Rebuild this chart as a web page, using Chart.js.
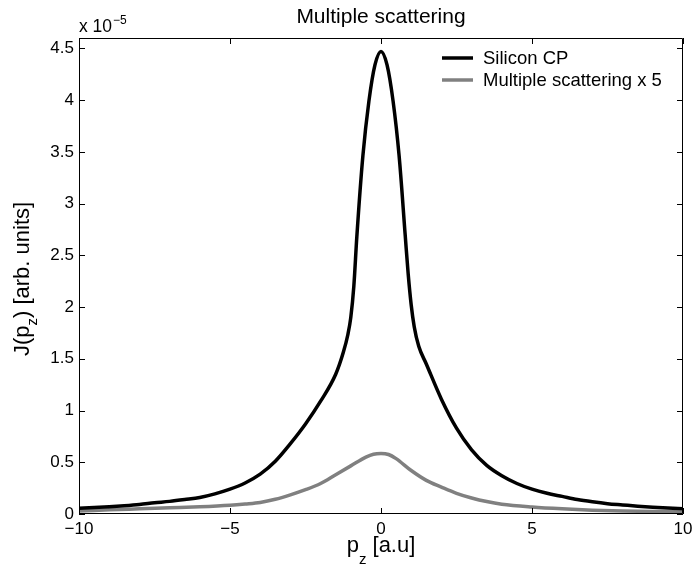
<!DOCTYPE html>
<html>

<head>
    <title>Multiple scattering</title>
    <script src="https://cdn.jsdelivr.net/npm/chart.js"></script>
    <style>
        body { margin: 0; background: #fff; }
        canvas { display: block; }
    </style>
</head>

<body>
    <canvas id="myChart" width="693" height="572"></canvas>

    <script>
        // momentum p_z [a.u] and profiles in units of 1e-5
        const pzCP = [-10, -9.5, -9, -8.5, -8, -7.5, -7, -6.5, -6, -5.5, -5, -4.5, -4, -3.5, -3, -2.5, -2, -1.5,
            -1.25, -1.1, -1, -0.9, -0.8, -0.6, -0.4, -0.2, 0, 0.2, 0.4, 0.6, 0.8, 0.9, 1, 1.1, 1.25, 1.5,
            2, 2.5, 3, 3.5, 4, 4.5, 5, 5.5, 6, 6.5, 7, 7.5, 8, 8.5, 9, 9.5, 10];
        const siliconCP = [0.055, 0.062, 0.070, 0.080, 0.092, 0.108, 0.122, 0.140, 0.160, 0.195, 0.240, 0.300, 0.385, 0.510, 0.680, 0.870, 1.090, 1.350,
            1.560, 1.730, 1.900, 2.200, 2.680, 3.460, 3.990, 4.340, 4.470, 4.340, 3.990, 3.460, 2.700, 2.320, 2.020, 1.810, 1.620, 1.450,
            1.110, 0.830, 0.620, 0.470, 0.370, 0.295, 0.240, 0.200, 0.170, 0.140, 0.118, 0.100, 0.088, 0.076, 0.066, 0.058, 0.050];

        const pzMS = [-10, -9, -8, -7, -6, -5, -4.5, -4, -3.5, -3, -2.5, -2, -1.5, -1, -0.5, -0.25, 0, 0.25, 0.5,
            1, 1.5, 2, 2.5, 3, 3.5, 4, 5, 6, 7, 8, 9, 10];
        const multipleScattering = [0.030, 0.040, 0.050, 0.060, 0.070, 0.085, 0.097, 0.112, 0.142, 0.185, 0.235, 0.295, 0.380, 0.465, 0.550, 0.578, 0.585, 0.575, 0.535,
            0.420, 0.325, 0.260, 0.200, 0.155, 0.120, 0.095, 0.068, 0.050, 0.037, 0.028, 0.023, 0.020];

        const xTicks = [-10, -5, 0, 5, 10];
        const yTicks = [0, 0.5, 1, 1.5, 2, 2.5, 3, 3.5, 4, 4.5];
        const seriesNames = ["Silicon CP", "Multiple scattering x 5"];
        const seriesColors = ["#000000", "#808080"];

        const FONT = "'Liberation Sans', Arial, Helvetica, sans-serif";

        function toPoints(xs, ys) {
            return xs.map((x, i) => ({ x: x, y: ys[i] }));
        }

        function fmt(v) {
            const s = String(Math.round(v * 10) / 10);
            return s.replace("-", "\u2212");
        }

        // text with a subscripted part: before, sub, after
        function subText(ctx, parts, x, y, drop, centered) {
            const big = "22px " + FONT, small = "15px " + FONT;
            ctx.font = big;
            const w1 = ctx.measureText(parts[0]).width;
            const w3 = ctx.measureText(parts[2]).width;
            ctx.font = small;
            const w2 = ctx.measureText(parts[1]).width;
            let x0 = centered ? x - (w1 + w2 + w3) / 2 : x;
            ctx.font = big;
            ctx.fillText(parts[0], x0, y);
            ctx.font = small;
            ctx.fillText(parts[1], x0 + w1, y + drop);
            ctx.font = big;
            ctx.fillText(parts[2], x0 + w1 + w2, y);
        }

        // matlab-style box: inward ticks on all four sides, title, exponent, labels, legend
        const matlabAxes = {
            id: "matlabAxes",
            afterDraw(chart) {
                const ctx = chart.ctx;
                const a = chart.chartArea;
                const xs = chart.scales.x;
                const ys = chart.scales.y;
                const tl = 6;

                ctx.save();
                ctx.strokeStyle = "#000";
                ctx.lineWidth = 1;
                ctx.beginPath();
                ctx.rect(a.left + 0.5, a.top + 0.5, a.right - a.left - 1, a.bottom - a.top - 1);
                xTicks.forEach(v => {
                    const px = Math.round(xs.getPixelForValue(v)) + 0.5;
                    ctx.moveTo(px, a.bottom);
                    ctx.lineTo(px, a.bottom - tl);
                    ctx.moveTo(px, a.top);
                    ctx.lineTo(px, a.top + tl);
                });
                yTicks.forEach(v => {
                    const py = Math.round(ys.getPixelForValue(v)) + 0.5;
                    ctx.moveTo(a.left, py);
                    ctx.lineTo(a.left + tl, py);
                    ctx.moveTo(a.right, py);
                    ctx.lineTo(a.right - tl, py);
                });
                ctx.stroke();

                ctx.fillStyle = "#000";
                ctx.textBaseline = "alphabetic";

                // title
                ctx.font = "21px " + FONT;
                ctx.textAlign = "center";
                ctx.fillText("Multiple scattering", (a.left + a.right) / 2, 23);

                // exponent of the y axis
                ctx.textAlign = "left";
                ctx.font = "17.5px " + FONT;
                ctx.fillText("x 10", a.left, 32);
                const w10 = ctx.measureText("x 10").width;
                ctx.font = "12px " + FONT;
                ctx.fillText("\u22125", a.left + w10 + 1, 24);

                // x axis label: p_z [a.u]
                subText(ctx, ["p", "z", " [a.u]"], (a.left + a.right) / 2, 552, 12, true);

                // y axis label: J(p_z) [arb. units]
                ctx.save();
                ctx.translate(29, (a.top + a.bottom) / 2 + 3);
                ctx.rotate(-Math.PI / 2);
                subText(ctx, ["J(p", "z", ") [arb. units]"], 0, 0, 8, true);
                ctx.restore();
                ctx.restore();

                // legend
                ctx.save();
                ctx.font = "18.5px " + FONT;
                ctx.textBaseline = "middle";
                ctx.textAlign = "left";
                chart.data.datasets.forEach((ds, i) => {
                    const ly = 58 + i * 22;
                    ctx.strokeStyle = ds.borderColor;
                    ctx.lineWidth = 3.5;
                    ctx.beginPath();
                    ctx.moveTo(442, ly);
                    ctx.lineTo(473, ly);
                    ctx.stroke();
                    ctx.fillStyle = "#000";
                    ctx.fillText(ds.label, 483, ly + 1);
                });
                ctx.restore();
            }
        };

        const ctx = document.getElementById("myChart").getContext("2d");
        new Chart(ctx, {
            type: "line",
            data: {
                datasets: [{
                    label: seriesNames[0],
                    data: toPoints(pzCP, siliconCP),
                    borderColor: seriesColors[0],
                    borderWidth: 3.5,
                    pointRadius: 0,
                    cubicInterpolationMode: "monotone",
                    clip: 0,
                }, {
                    label: seriesNames[1],
                    data: toPoints(pzMS, multipleScattering),
                    borderColor: seriesColors[1],
                    borderWidth: 3.5,
                    pointRadius: 0,
                    cubicInterpolationMode: "monotone",
                    clip: 0,
                }],
            },
            options: {
                responsive: false,
                animation: false,
                devicePixelRatio: 1,
                layout: { padding: { left: 0, right: 10, top: 38, bottom: 0 } },
                plugins: {
                    legend: { display: false },
                    tooltip: { enabled: false },
                },
                scales: {
                    x: {
                        type: "linear",
                        position: "bottom",
                        min: -10,
                        max: 10,
                        afterBuildTicks: s => { s.ticks = xTicks.map(v => ({ value: v })); },
                        afterFit: s => { s.height = 58; s.paddingLeft = 0; s.paddingRight = 0; },
                        grid: { display: false, drawTicks: false },
                        border: { display: false },
                        ticks: {
                            color: "#000",
                            padding: 5,
                            maxRotation: 0,
                            font: { size: 17, family: FONT },
                            callback: v => fmt(v),
                        },
                    },
                    y: {
                        type: "linear",
                        min: 0,
                        max: 4.6,
                        afterBuildTicks: s => { s.ticks = yTicks.map(v => ({ value: v })); },
                        afterFit: s => { s.width = 79; s.paddingTop = 0; s.paddingBottom = 0; },
                        grid: { display: false, drawTicks: false },
                        border: { display: false },
                        ticks: {
                            color: "#000",
                            padding: 5,
                            font: { size: 17, family: FONT },
                            callback: v => fmt(v),
                        },
                    },
                },
            },
            plugins: [matlabAxes],
        });
    </script>
</body>

</html>
